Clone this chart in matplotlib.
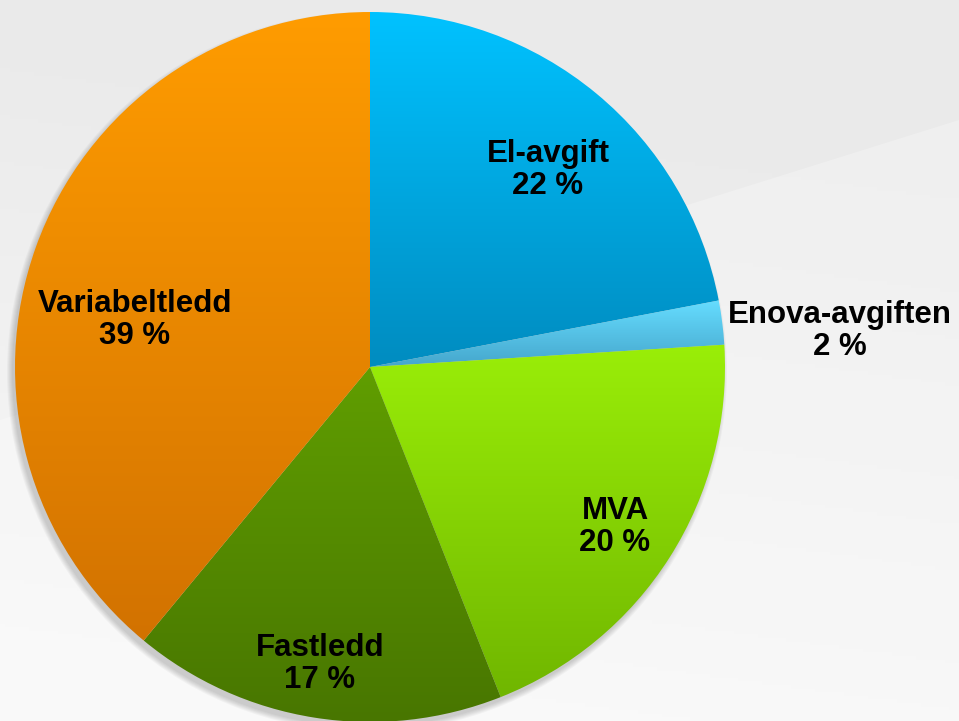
import numpy as np
import matplotlib.pyplot as plt
from matplotlib.colors import to_rgb
from matplotlib.patches import Polygon, Circle

labels = ['El-avgift', 'Enova-avgiften', 'MVA', 'Fastledd', 'Variabeltledd']
shares = [22, 2, 20, 17, 39]
top_colours = ['#00C2FF', '#66DDFF', '#9AEE08', '#609E00', '#FF9C00']
bottom_colours = ['#008CC0', '#45A6CC', '#70B600', '#487600', '#D27200']
label_pos = [(548, 170), (840, 331), (615, 527), (320, 664), (135, 320)]

W, H = 959, 721
cx, cy, r = 370, H - 367, 355

fig = plt.figure(figsize=(W / 100, H / 100), dpi=100)
ax = fig.add_axes([0, 0, 1, 1])

# background: light grey, a bit brighter lower down
yy, xx = np.mgrid[0:1:200j, 0:1:200j]
bg = 0.915 + 0.055 * np.clip(yy * 1.1 - 0.25 + (1 - xx) * 0.2, 0, 1)
ax.imshow(bg, extent=[0, W, 0, H], origin='upper', cmap='gray', vmin=0, vmax=1,
          aspect='auto', zorder=0)
ax.add_patch(Polygon([[0, H - 420], [W, H - 120], [W, 0], [0, 0]], closed=True,
                     color='white', alpha=0.25, lw=0, zorder=0.5))

# soft shadow under the pie
for k in range(6):
    ax.add_patch(Circle((cx - 3, cy - 5), r + k, color='k', alpha=0.03,
                        lw=0, zorder=1))

wedges, _ = ax.pie(shares, startangle=90, counterclock=False, center=(cx, cy),
                   radius=r, frame=True, wedgeprops=dict(lw=0))
ax.set_xlim(0, W)
ax.set_ylim(0, H)
ax.set_aspect('equal')
ax.axis('off')

for w, c1, c2 in zip(wedges, top_colours, bottom_colours):
    w.set_facecolor('none')
    w.set_zorder(2)
    ext = w.get_path().get_extents(w.get_transform() + ax.transData.inverted())
    t = np.linspace(0, 1, 256)[:, None, None]
    grad = np.array(to_rgb(c1)) * (1 - t) + np.array(to_rgb(c2)) * t
    grad = np.repeat(grad, 2, axis=1)
    im = ax.imshow(grad, extent=[ext.x0, ext.x1, ext.y0, ext.y1], origin='upper',
                   aspect='auto', zorder=2)
    im.set_clip_path(w)

for name, val, (x, y) in zip(labels, shares, label_pos):
    ax.text(x, H - y, f'{name}\n{val} %', ha='center', va='center',
            fontsize=22.5, fontweight='bold', family='Liberation Sans',
            linespacing=1.12, zorder=3)

fig.savefig('out.png', dpi=100)
